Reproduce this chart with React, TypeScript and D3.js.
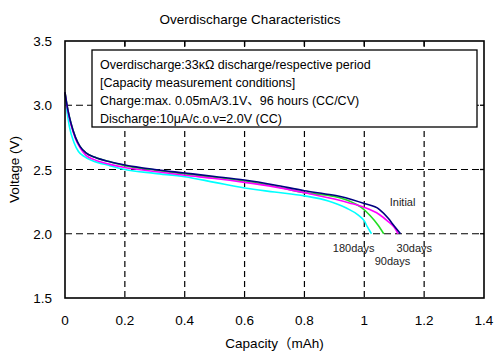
import {useEffect, useRef} from "react";
import * as d3 from "d3";

// capacity (mAh) / voltage (V)
const initialCap = [0, 0.004, 0.01, 0.02, 0.035, 0.05, 0.07, 0.1, 0.15, 0.2, 0.3, 0.4, 0.5, 0.6, 0.7, 0.8, 0.87, 0.92, 0.96, 1.0, 1.05, 1.08, 1.1, 1.121];
const initialV = [3.10, 3.04, 2.96, 2.86, 2.75, 2.68, 2.63, 2.595, 2.56, 2.535, 2.50, 2.473, 2.446, 2.418, 2.38, 2.335, 2.31, 2.29, 2.265, 2.235, 2.19, 2.12, 2.06, 2.0];

const days30Cap = [0, 0.004, 0.01, 0.02, 0.035, 0.05, 0.07, 0.1, 0.15, 0.2, 0.3, 0.4, 0.5, 0.6, 0.7, 0.8, 0.9, 0.95, 1.0, 1.05, 1.08, 1.1, 1.113];
const days30V = [3.10, 3.03, 2.95, 2.85, 2.74, 2.67, 2.61, 2.575, 2.54, 2.515, 2.485, 2.455, 2.43, 2.40, 2.365, 2.32, 2.27, 2.24, 2.205, 2.15, 2.095, 2.05, 2.0];

const days90Cap = [0, 0.004, 0.01, 0.02, 0.035, 0.05, 0.07, 0.1, 0.15, 0.2, 0.3, 0.4, 0.5, 0.6, 0.7, 0.8, 0.9, 0.95, 0.99, 1.02, 1.045, 1.065];
const days90V = [3.10, 3.04, 2.96, 2.86, 2.75, 2.68, 2.63, 2.595, 2.56, 2.53, 2.495, 2.465, 2.44, 2.41, 2.37, 2.32, 2.29, 2.255, 2.205, 2.14, 2.07, 2.0];

const days180Cap = [0, 0.003, 0.008, 0.015, 0.03, 0.045, 0.065, 0.09, 0.15, 0.2, 0.3, 0.4, 0.5, 0.6, 0.7, 0.8, 0.88, 0.94, 0.98, 1.0, 1.01, 1.024];
const days180V = [3.10, 3.02, 2.93, 2.83, 2.71, 2.64, 2.6, 2.57, 2.53, 2.50, 2.47, 2.444, 2.40, 2.356, 2.325, 2.295, 2.255, 2.2, 2.145, 2.1, 2.055, 2.0];

const seriesNames = ["Initial", "30days", "90days", "180days"];
const seriesColors = ["#000080", "#ff00ff", "#22dd22", "#00ffff"];

const xTicks = [0, 0.2, 0.4, 0.6, 0.8, 1, 1.2, 1.4];
const yTicks = [1.5, 2.0, 2.5, 3.0, 3.5];

const noteLines = [
    "Overdischarge:33κΩ discharge/respective period",
    "[Capacity measurement conditions]",
    "Charge:max. 0.05mA/3.1V、96 hours (CC/CV)",
    "Discharge:10μA/c.o.v=2.0V (CC)",
];

const font = "'Liberation Sans', Arial, 'Noto Sans CJK JP', sans-serif";

const App = () => {
    const ref = useRef<SVGSVGElement>(null);

    useEffect(() => {
        const svg = d3.select(ref.current);
        svg.selectAll("*").remove();

        const margin = {top: 41, right: 16, bottom: 62, left: 65};
        const width = 500 - margin.left - margin.right;
        const height = 360 - margin.top - margin.bottom;

        const x = d3.scaleLinear().domain([0, 1.4]).range([0, width]);
        const y = d3.scaleLinear().domain([1.5, 3.5]).range([height, 0]);

        // title
        svg.append("text")
            .attr("x", 250).attr("y", 24)
            .attr("text-anchor", "middle")
            .attr("font-size", 13.5)
            .attr("font-family", font)
            .text("Overdischarge Characteristics");

        const g = svg.append("g").attr("transform", `translate(${margin.left},${margin.top})`);

        // dashed grid
        g.selectAll(".vgrid")
            .data(xTicks.slice(1, -1))
            .join("line")
            .attr("x1", d => x(d)).attr("x2", d => x(d))
            .attr("y1", 0).attr("y2", height)
            .attr("stroke", "#000").attr("stroke-width", 1.2)
            .attr("stroke-dasharray", "6,4");
        g.selectAll(".hgrid")
            .data(yTicks.slice(1, -1))
            .join("line")
            .attr("y1", d => y(d)).attr("y2", d => y(d))
            .attr("x1", 0).attr("x2", width)
            .attr("stroke", "#000").attr("stroke-width", 1.2)
            .attr("stroke-dasharray", "7,4");

        // note box
        g.append("rect")
            .attr("x", 27).attr("y", 9)
            .attr("width", 385).attr("height", 77)
            .attr("fill", "#fff").attr("stroke", "#000").attr("stroke-width", 1.3);
        g.selectAll(".note")
            .data(noteLines)
            .join("text")
            .attr("x", 35)
            .attr("y", (d, i) => 28 + i * 18)
            .attr("font-size", 12.5)
            .attr("font-family", font)
            .text(d => d);

        // curves
        const caps = [initialCap, days30Cap, days90Cap, days180Cap];
        const volts = [initialV, days30V, days90V, days180V];
        const line = d3.line<[number, number]>()
            .x(d => x(d[0]))
            .y(d => y(d[1]))
            .curve(d3.curveMonotoneX);
        // draw oldest first so Initial sits on top
        for (let s = seriesNames.length - 1; s >= 0; s--) {
            const pts = caps[s].map((c, i) => [c, volts[s][i]] as [number, number]);
            g.append("path")
                .datum(pts)
                .attr("fill", "none")
                .attr("stroke", seriesColors[s])
                .attr("stroke-width", 1.6)
                .attr("d", line);
        }

        // series labels (capacity, voltage of text baseline start)
        const labelPos = [[1.085, 2.216], [1.108, 1.858], [1.035, 1.755], [0.895, 1.858]];
        g.selectAll(".lab")
            .data(seriesNames)
            .join("text")
            .attr("x", (d, i) => x(labelPos[i][0]))
            .attr("y", (d, i) => y(labelPos[i][1]))
            .attr("font-size", 11)
            .attr("font-family", font)
            .attr("fill", "#222")
            .text(d => d);

        // frame
        g.append("rect")
            .attr("width", width).attr("height", height)
            .attr("fill", "none").attr("stroke", "#000").attr("stroke-width", 1.6);

        // inward ticks on top / right
        g.selectAll(".tt")
            .data(xTicks.slice(1, -1))
            .join("line")
            .attr("x1", d => x(d)).attr("x2", d => x(d))
            .attr("y1", 0).attr("y2", 5)
            .attr("stroke", "#000").attr("stroke-width", 1.3);
        g.selectAll(".rt")
            .data(yTicks.slice(1, -1))
            .join("line")
            .attr("y1", d => y(d)).attr("y2", d => y(d))
            .attr("x1", width).attr("x2", width - 4)
            .attr("stroke", "#000").attr("stroke-width", 1.3);

        // axis labels
        g.selectAll(".xl")
            .data(xTicks)
            .join("text")
            .attr("x", d => x(d))
            .attr("y", height + 27)
            .attr("text-anchor", "middle")
            .attr("font-size", 13.5)
            .attr("font-family", font)
            .text(d => d3.format("")(d));
        g.selectAll(".yl")
            .data(yTicks)
            .join("text")
            .attr("x", -13)
            .attr("y", d => y(d) + 5)
            .attr("text-anchor", "end")
            .attr("font-size", 13.5)
            .attr("font-family", font)
            .text(d => d3.format(".1f")(d));

        g.append("text")
            .attr("x", width / 2).attr("y", height + 50)
            .attr("text-anchor", "middle")
            .attr("font-size", 13.5)
            .attr("font-family", font)
            .text("Capacity（mAh)");
        g.append("text")
            .attr("transform", `translate(-46,${height / 2}) rotate(-90)`)
            .attr("text-anchor", "middle")
            .attr("font-size", 13.5)
            .attr("font-family", font)
            .text("Voltage (V)");
    }, []);

    return <svg ref={ref} width={500} height={360} style={{position: "absolute", left: 0, top: 0, background: "#fff"}}></svg>;
};

export default App;
